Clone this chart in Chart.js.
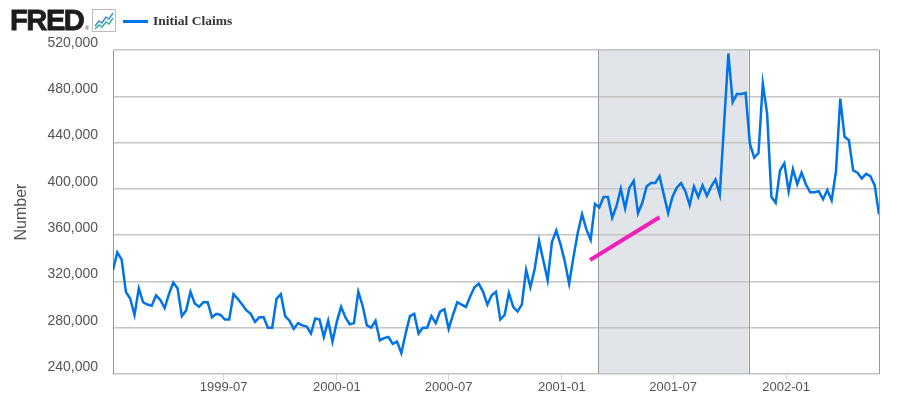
<!DOCTYPE html>
<html>
<head>
<meta charset="utf-8">
<title>Initial Claims</title>
<script src="https://cdn.jsdelivr.net/npm/chart.js@4.4.1/dist/chart.umd.min.js"></script>
<style>
  body { margin: 0; background: #fff; }
  #wrap { position: relative; width: 900px; height: 413px; overflow: hidden; }
  #fred { position: absolute; left: 10px; top: 3px; font: bold 30px "Liberation Sans", Arial, sans-serif;
          color: #1c1c1c; transform: scaleX(0.97); transform-origin: left top; letter-spacing: -1.5px;
          -webkit-text-stroke: 0.8px #1c1c1c; }
  #reg { position: absolute; left: 85px; top: 25px; font: 6px "Liberation Sans", sans-serif; color: #333; }
  #icon { position: absolute; left: 92px; top: 9px; }
  #legline { position: absolute; left: 123px; top: 20px; width: 25px; height: 3px; background: #0073e6; }
  #legtxt { position: absolute; left: 153px; top: 13px; font: bold 13.5px "Liberation Serif", "Times New Roman", serif; color: #333; }
  canvas { position: absolute; left: 0; top: 0; }
</style>
</head>
<body>
<div id="wrap">
  <canvas id="claimsChart" width="900" height="413"></canvas>
  <div id="fred">FRED</div>
  <div id="reg">®</div>
  <svg id="icon" width="24" height="23" viewBox="0 0 24 23">
    <rect x="0.5" y="0.5" width="23" height="22" fill="#fff" stroke="#bbb"/>
    <polyline points="3,17 7,12 10,14 14,8 17,10 21,4" fill="none" stroke="#3a8fd8" stroke-width="1.5"/>
    <polyline points="3,20 7,16 10,18 14,13 17,15 21,9" fill="none" stroke="#3bb08f" stroke-width="1.5"/>
  </svg>
  <div id="legline"></div>
  <div id="legtxt">Initial Claims</div>
</div>
<script>
// DATOS

    // semana inicial (sábado) y valores semanales de solicitudes iniciales
    const firstWeek = '1999-01-02';
    const claims = [
        330000, 345000, 339000, 311000, 305000, 291000, 314000, 302000, 300000, 299000,
        308000, 304000, 297000, 309000, 319000, 314000, 290000, 295000, 311000, 301000,
        298000, 302000, 302000, 289000, 292000, 291000, 287000, 287000, 309000, 305000,
        300000, 295000, 292000, 285000, 289000, 289000, 280000, 280000, 305000, 309000,
        290000, 286000, 279000, 284000, 282000, 281000, 275000, 288000, 287000, 272000,
        286000, 268000, 285000, 298000, 289000, 283000, 284000, 311000, 299000, 282000,
        280000, 286000, 269000, 271000, 272000, 266000, 268000, 258000, 275000, 290000,
        292000, 275000, 280000, 280000, 290000, 284000, 294000, 296000, 279000, 291000,
        302000, 300000, 298000, 307000, 315000, 318000, 311000, 300000, 308000, 311000,
        287000, 291000, 310000, 298000, 294000, 300000, 330000, 315000, 331000, 355000,
        338000, 321000, 354000, 364000, 352000, 337000, 318000, 341000, 362000, 378000,
        365000, 356000, 387000, 384000, 393000, 393000, 375000, 385000, 400000, 383000,
        401000, 407000, 379000, 388000, 402000, 405000, 405000, 411000, 395000, 379000,
        393000, 401000, 405000, 398000, 386000, 402000, 393000, 403000, 394000, 402000,
        408000, 395000, 456000, 517000, 475000, 482000, 482000, 483000, 439000, 427000,
        431000, 491000, 465000, 393000, 388000, 416000, 422000, 398000, 417000, 404000,
        414000, 404000, 397000, 397000, 398000, 391000, 399000, 390000, 415000, 478000,
        445000, 442000, 416000, 414000, 409000, 413000, 411000, 403000, 378000
    ];

    // línea magenta dibujada sobre el gráfico
    const markDates = ['2001-02-16', '2001-06-09'];
    const markValues = [338500, 375400];

    // recesión sombreada
    const recessionStart = '2001-03-01';
    const recessionEnd = '2001-11-01';

    // etiquetas de ejes
    const xTickLabels = ['1999-07', '2000-01', '2000-07', '2001-01', '2001-07', '2002-01'];
    const yTicks = [240000, 280000, 320000, 360000, 400000, 440000, 480000, 520000];
    const xMin = '1999-01-02';
    const xMax = '2002-06-01';


// GRÁFICO

    // fechas como número de días (no hay adaptador de fechas)
    const toDay = s => Date.UTC(+s.slice(0, 4), +s.slice(5, 7) - 1, s.length > 7 ? +s.slice(8, 10) : 1) / 86400000;
    const day0 = toDay(firstWeek);

    const claimPoints = claims.map((v, i) => ({ x: day0 + i * 7, y: v }));
    const markPoints = markDates.map((d, i) => ({ x: toDay(d), y: markValues[i] }));
    const xTickValues = xTickLabels.map(toDay);

    // sombreado de recesión y borde derecho
    const recessionPlugin = {
        id: 'recession',
        beforeDraw(chart) {
            const { ctx, chartArea, scales } = chart;
            const x1 = scales.x.getPixelForValue(toDay(recessionStart));
            const x2 = scales.x.getPixelForValue(toDay(recessionEnd));
            ctx.save();
            ctx.fillStyle = '#e1e5ea';
            ctx.fillRect(x1, chartArea.top, x2 - x1, chartArea.bottom - chartArea.top);
            ctx.restore();
        },
        beforeDatasetsDraw(chart) {
            const { ctx, chartArea, scales } = chart;
            const x1 = scales.x.getPixelForValue(toDay(recessionStart));
            const x2 = scales.x.getPixelForValue(toDay(recessionEnd));
            ctx.save();
            ctx.strokeStyle = '#999999';
            ctx.lineWidth = 1;
            [x1, x2, chartArea.right].forEach(px => {
                const p = Math.round(px) + 0.5;
                ctx.beginPath();
                ctx.moveTo(p, chartArea.top);
                ctx.lineTo(p, chartArea.bottom);
                ctx.stroke();
            });
            ctx.restore();
        }
    };

    new Chart(document.getElementById('claimsChart'), {
        type: 'line',
        data: {
            datasets: [{
                label: 'Initial Claims',
                data: claimPoints,
                borderColor: '#0073e6',
                borderWidth: 2.5,
                pointRadius: 0,
                tension: 0,
                fill: false
            }, {
                label: 'mark',
                data: markPoints,
                borderColor: '#ee22bb',
                borderWidth: 4,
                pointRadius: 0,
                fill: false
            }]
        },
        options: {
            responsive: false,
            animation: false,
            layout: { padding: { left: 0, top: 50, right: 21, bottom: 0 } },
            plugins: {
                legend: { display: false },
                tooltip: { enabled: false }
            },
            scales: {
                x: {
                    type: 'linear',
                    min: toDay(xMin),
                    max: toDay(xMax),
                    afterBuildTicks: scale => { scale.ticks = xTickValues.map(v => ({ value: v })); },
                    afterFit: scale => { scale.height = 39; },
                    ticks: {
                        autoSkip: false,
                        maxRotation: 0,
                        padding: 0,
                        color: '#555555',
                        font: { family: 'Liberation Sans, Arial, sans-serif', size: 13 },
                        callback: v => xTickLabels[xTickValues.indexOf(v)] || ''
                    },
                    grid: { drawOnChartArea: false, drawTicks: true, tickLength: 6, color: '#ccd6eb' },
                    border: { display: false }
                },
                y: {
                    min: 240000,
                    max: 520000,
                    afterBuildTicks: scale => { scale.ticks = yTicks.map(v => ({ value: v })); },
                    afterFit: scale => { scale.width = 113; },
                    ticks: {
                        padding: 15,
                        labelOffset: -7,
                        color: '#555555',
                        font: { family: 'Liberation Sans, Arial, sans-serif', size: 14 },
                        callback: v => v.toLocaleString('en-US')
                    },
                    grid: { color: '#c4c4c4', lineWidth: 1.5, drawTicks: false },
                    border: { display: true, color: '#999999', width: 1 },
                    title: {
                        display: true,
                        text: 'Number',
                        color: '#555555',
                        padding: { top: 12, bottom: 0 },
                        font: { family: 'Liberation Sans, Arial, sans-serif', size: 16 }
                    }
                }
            }
        },
        plugins: [recessionPlugin]
    });
</script>
</body>
</html>
